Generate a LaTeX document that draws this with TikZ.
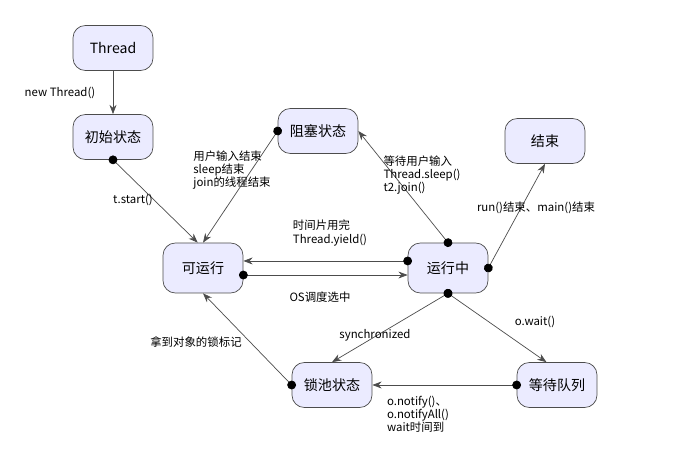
\documentclass[tikz,border=0pt]{standalone}
\usepackage{fontspec}
\setmainfont{Noto Sans CJK SC}
\usetikzlibrary{arrows.meta}

\begin{document}
\begin{tikzpicture}[%
  x=0.02cm, y=-0.02cm,
  >={Stealth[scale=1.1]},
  state/.style={draw=black!70, fill=blue!8, rounded corners=7pt, minimum width=1.6cm,
    minimum height=0.9cm, font=\fontsize{8}{9}\selectfont},
  trans/.style={draw=black!70, {Circle[length=5pt,black]}->, shorten <=-2.5pt},
  lbl/.style={font=\fontsize{6.5}{7.5}\selectfont, align=left, inner sep=1pt},
]

  \useasboundingbox (0,0) rectangle (687,472);

  \node[state] (thread) at (113,48) {Thread};
  \node[state] (init) at (113,137) {初始状态};
  \node[state] (blocked) at (318,131) {阻塞状态};
  \node[state] (dead) at (545,141) {结束};
  \node[state, minimum height=1cm] (runnable) at (203,268) {可运行};
  \node[state, minimum height=1cm] (running) at (448,268) {运行中};
  \node[state] (lockpool) at (332,385) {锁池状态};
  \node[state] (waitq) at (557,385) {等待队列};

  \draw[draw=black!70, ->] (thread) -- (init);
  \draw[trans] (init.south) -- ([xshift=-3pt]runnable.north);
  \draw[trans] (blocked.west) -- ([xshift=0pt]runnable.north);
  \draw[trans] ([xshift=0pt]running.north) -- (blocked.east);
  \draw[trans] ([yshift=4pt]running.west) -- ([yshift=4pt]runnable.east);
  \draw[trans] ([yshift=-4pt]runnable.east) -- ([yshift=-4pt]running.west);
  \draw[trans] (running.east) -- (dead.south);
  \draw[trans] (running.south) -- (lockpool.north);
  \draw[trans] (running.south) -- ([xshift=-6pt]waitq.north);
  \draw[trans] (waitq.west) -- (lockpool.east);
  \draw[trans] (lockpool.west) -- (runnable.south);

  \node[lbl] (lnew) at (60,93) {new Thread()};
  \node[lbl] (lstart) at (133,200) {t.start()};
  \node[lbl] (lwake) at (232,170) {用户输入结束\\sleep结束\\join的线程结束};
  \node[lbl] (lsleep) at (422,175) {等待用户输入\\Thread.sleep()\\t2.join()};
  \node[lbl] (lyield) at (330,233) {时间片用完\\Thread.yield()};
  \node[lbl] (lsched) at (320,297) {OS调度选中};
  \node[lbl] (lend) at (536,208) {run()结束、main()结束};
  \node[lbl] (lsync) at (375,335) {synchronized};
  \node[lbl] (lwait) at (535,322) {o.wait()};
  \node[lbl] (lnotify) at (418,414) {o.notify()、\\o.notifyAll()\\wait时间到};
  \node[lbl] (llock) at (196,342) {拿到对象的锁标记};

\end{tikzpicture}
\end{document}
